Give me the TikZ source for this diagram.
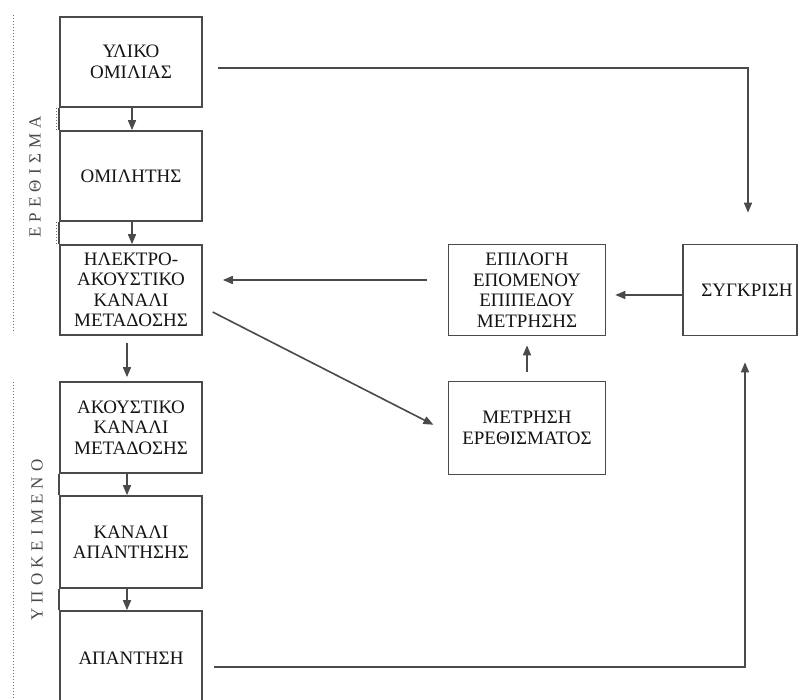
\documentclass[tikz,border=0pt]{standalone}
\usepackage{fontspec}
\setmainfont{Liberation Serif}
\usetikzlibrary{arrows.meta}
\definecolor{ln}{HTML}{4A4A4A}
\definecolor{tx}{HTML}{141414}
\begin{document}
\begin{tikzpicture}[x=1pt,y=-1pt,
  box/.style={draw=ln,line width=1.7pt,rectangle,align=center,text=tx,
    font=\fontsize{19}{20.5}\selectfont,inner sep=0pt},
  lbox/.style={box,minimum width=142pt},
  rbox/.style={box,minimum width=157pt},
  conn/.style={draw=ln,line width=1.6pt,-{Triangle[length=10pt,width=8pt]}},
  side/.style={text=ln,font=\fontsize{17}{17}\selectfont\addfontfeature{LetterSpace=30},rotate=90},
  dots/.style={draw=ln!80,line width=1pt,dotted},
  edge/.style={draw=ln,line width=1.7pt}]
\useasboundingbox (0,0) rectangle (798,699);
\fill[white] (0,0) rectangle (798,699);
% left column
\node[lbox,minimum height=90pt] (b1) at (131,62) {ΥΛΙΚΟ\\ΟΜΙΛΙΑΣ};
\node[lbox,minimum height=90pt] (b2) at (131,176) {ΟΜΙΛΗΤΗΣ};
\node[lbox,minimum height=90pt] (b3) at (131,290) {ΗΛΕΚΤΡΟ-\\ΑΚΟΥΣΤΙΚΟ\\ΚΑΝΑΛΙ\\ΜΕΤΑΔΟΣΗΣ};
\node[lbox,minimum height=91pt] (b4) at (131,427.5) {ΑΚΟΥΣΤΙΚΟ\\ΚΑΝΑΛΙ\\ΜΕΤΑΔΟΣΗΣ};
\node[lbox,minimum height=92pt] (b5) at (131,542) {ΚΑΝΑΛΙ\\ΑΠΑΝΤΗΣΗΣ};
\node[lbox,minimum height=94pt] (b6) at (131,658) {ΑΠΑΝΤΗΣΗ};
% right side
\node[rbox,minimum height=91pt] (sel) at (527,290) {ΕΠΙΛΟΓΗ\\ΕΠΟΜΕΝΟΥ\\ΕΠΙΠΕΔΟΥ\\ΜΕΤΡΗΣΗΣ};
\node[rbox,minimum height=93pt] (mes) at (527,428) {ΜΕΤΡΗΣΗ\\ΕΡΕΘΙΣΜΑΤΟΣ};
\node[box,minimum width=114pt,minimum height=91pt] (cmp) at (740,290) {\hspace*{14pt}\raisebox{-5pt}{ΣΥΓΚΡΙΣΗ}};
% side labels
\coordinate (s1a) at (13,15); \coordinate (s1b) at (13,333);
\coordinate (s2a) at (13,382); \coordinate (s2b) at (13,699);
\draw[dots] (s1a) -- (s1b);
\draw[dots] (s2a) -- (s2b);
\node[side] (lab1) at (35,177) {ΕΡΕΘΙΣΜΑ};
\node[side] (lab2) at (37,540) {ΥΠΟΚΕΙΜΕΝΟ};
% joints between boxes (continuous left edge)
\draw[edge] (b1.south west) -- (b2.north west);
\draw[edge] (b2.south west) -- (b3.north west);
\draw[dots] ([xshift=-3pt]b1.south west) -- ([xshift=-3pt]b2.north west);
\draw[dots] ([xshift=-3pt]b2.south west) -- ([xshift=-3pt]b3.north west);
\draw[edge] (b4.south west) -- (b5.north west);
\draw[edge] (b5.south west) -- (b6.north west);
% vertical arrows in column
\draw[conn] ([xshift=1pt]b1.south) -- ([xshift=1pt]b2.north);
\draw[conn] ([xshift=1pt]b2.south) -- ([xshift=1pt]b3.north);
\draw[conn,shorten <=7pt,shorten >=4pt] ([xshift=-4pt]b3.south) -- ([xshift=-4pt]b4.north);
\draw[conn] ([xshift=-4pt]b4.south) -- ([xshift=-4pt]b5.north);
\draw[conn] ([xshift=-4pt]b5.south) -- ([xshift=-4pt]b6.north);
% long connectors
\coordinate (c1) at (748,68);
\coordinate (c2) at (745,667);
\draw[conn,shorten <=15pt,shorten >=31pt] (b1.east |- c1) -- (c1) -- (c1 |- cmp.north);
\draw[conn,shorten <=11pt,shorten >=26pt] (b6.east |- c2) -- (c2) -- (c2 |- cmp.south);
\draw[conn,shorten >=9pt] (cmp.west |- 0,295) -- (sel.east |- 0,295);
\draw[conn,shorten <=9pt,shorten >=9pt] (mes.north) -- (sel.south);
\draw[conn,shorten <=21pt,shorten >=20pt] (sel.west |- 0,280) -- (b3.east |- 0,280);
\draw[conn,shorten <=11pt,shorten >=16pt] (b3.east |- 0,307) -- (mes.west |- 0,432);
\end{tikzpicture}
\end{document}
